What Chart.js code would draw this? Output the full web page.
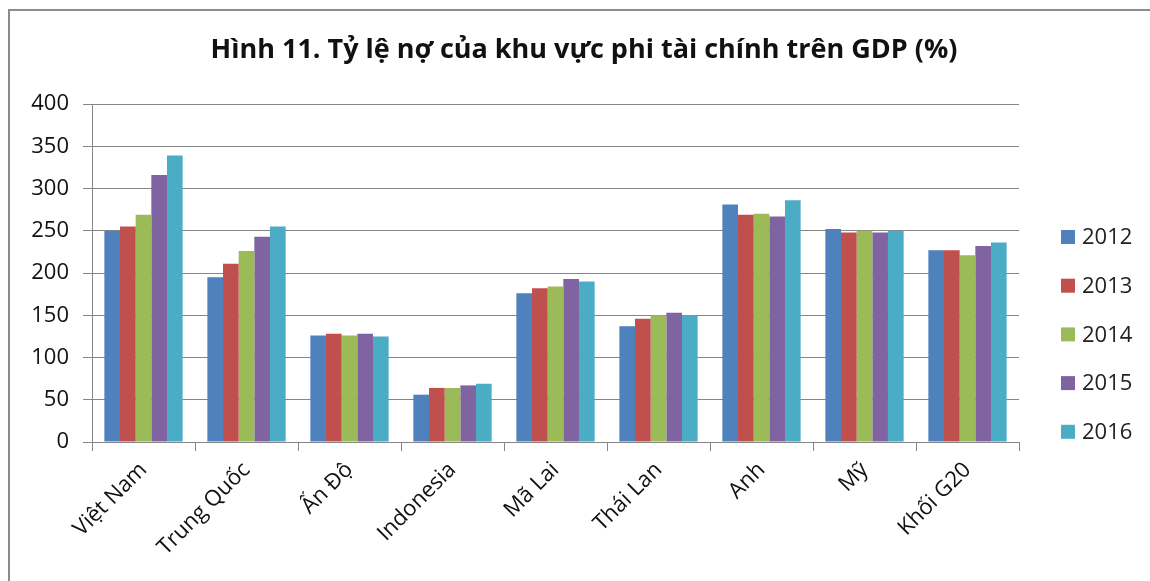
<!DOCTYPE html>
<html>
<head>
<meta charset="utf-8">
<script src="https://cdn.jsdelivr.net/npm/chart.js@4"></script>
<style>
  html, body { margin: 0; padding: 0; background: #fff; }
  #wrap { width: 1150px; height: 581px; }
</style>
</head>
<body>
<div id="wrap"><canvas id="chart" width="1150" height="581"></canvas></div>
<script>
const categories = ['Việt Nam', 'Trung Quốc', 'Ấn Độ', 'Indonesia', 'Mã Lai', 'Thái Lan', 'Anh', 'Mỹ', 'Khối G20'];
const years = ['2012', '2013', '2014', '2015', '2016'];
const v2012 = [250, 195, 126, 56, 176, 137, 281, 252, 227];
const v2013 = [255, 211, 128, 64, 182, 146, 269, 248, 227];
const v2014 = [269, 226, 126, 64, 184, 150, 270, 250, 221];
const v2015 = [316, 243, 128, 67, 193, 153, 267, 248, 232];
const v2016 = [339, 255, 125, 69, 190, 150, 286, 250, 236];
const colors = ['#4F81BD', '#C0504D', '#9BBB59', '#8064A2', '#4BACC6'];
const titleText = 'Hình 11. Tỷ lệ nợ của khu vực phi tài chính trên GDP (%)';

const series = [v2012, v2013, v2014, v2015, v2016];
const FONT = "'Open Sans', 'DejaVu Sans', sans-serif";

// outer frame, title and legend (title is centred over the whole chart, not the plot)
const frameAndLegend = {
  id: 'frameAndLegend',
  beforeDraw(chart) {
    const { ctx } = chart;
    ctx.save();
    ctx.strokeStyle = '#8c8c8c';
    ctx.lineWidth = 2;
    ctx.beginPath();
    ctx.moveTo(9, 600);
    ctx.lineTo(9, 10);
    ctx.lineTo(1160, 10);
    ctx.stroke();
    ctx.restore();
  },
  afterDraw(chart) {
    const { ctx } = chart;
    ctx.save();
    ctx.font = 'bold 27px ' + FONT;
    ctx.textAlign = 'center';
    ctx.textBaseline = 'middle';
    ctx.fillStyle = '#111';
    ctx.fillText(titleText, 584, 50);

    ctx.textAlign = 'left';
    ctx.font = '22px ' + FONT;
    chart.data.datasets.forEach((ds, i) => {
      const y = 237 + i * 48.7;
      ctx.fillStyle = ds.backgroundColor;
      ctx.fillRect(1061, y - 7, 14, 14);
      ctx.fillStyle = '#222';
      ctx.fillText(ds.label, 1082, y + 1);
    });
    ctx.restore();
  },
};

const config = {
  type: 'bar',
  data: {
    labels: categories,
    datasets: years.map((y, i) => ({
      label: y,
      data: series[i],
      backgroundColor: colors[i],
      borderWidth: 0,
      categoryPercentage: 0.76,
      barPercentage: 1,
    })),
  },
  options: {
    responsive: false,
    animation: false,
    layout: { padding: { left: 0, right: 131, top: 104, bottom: 0 } },
    scales: {
      x: {
        afterFit: (scale) => { scale.height = 139; },
        grid: {
          drawOnChartArea: false,
          drawTicks: true,
          tickLength: 9,
          color: '#868686',
        },
        border: { color: '#868686' },
        ticks: {
          maxRotation: 45,
          minRotation: 45,
          color: '#111',
          padding: 6,
          font: { family: FONT, size: 22 },
        },
      },
      y: {
        min: 0,
        max: 400,
        afterFit: (scale) => { scale.width = 92; },
        ticks: {
          stepSize: 50,
          color: '#111',
          padding: 14,
          font: { family: FONT, size: 22 },
        },
        grid: { color: '#868686', tickLength: 9 },
        border: { color: '#868686' },
      },
    },
    plugins: {
      legend: { display: false },
      tooltip: { enabled: false },
      title: { display: false },
    },
  },
  plugins: [frameAndLegend],
};

new Chart(document.getElementById('chart'), config);
</script>
</body>
</html>
